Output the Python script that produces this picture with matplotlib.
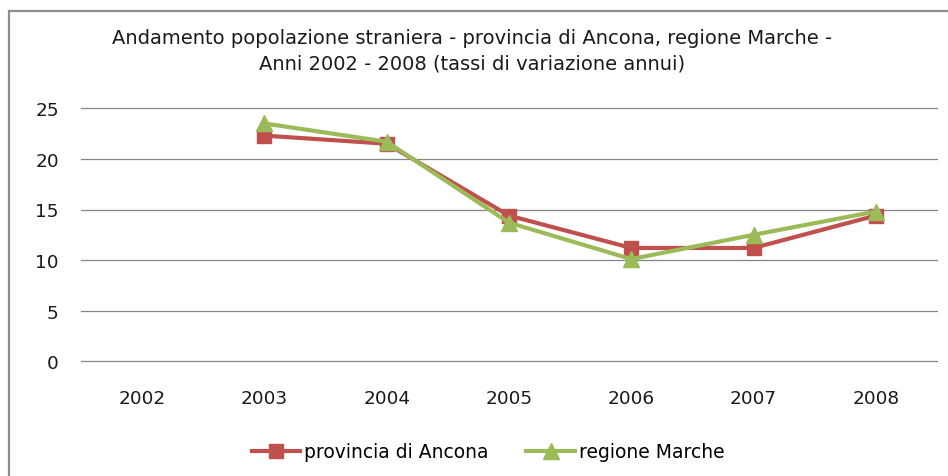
import matplotlib
matplotlib.use("Agg")
import matplotlib.pyplot as plt
from matplotlib.patches import Rectangle
import numpy as np

# dati
anni = ["2002", "2003", "2004", "2005", "2006", "2007", "2008"]
ancona = [np.nan, 22.3, 21.5, 14.4, 11.2, 11.2, 14.4]
marche = [np.nan, 23.5, 21.7, 13.7, 10.1, 12.5, 14.8]
yticks = [0, 5, 10, 15, 20, 25]

titolo = ("Andamento popolazione straniera - provincia di Ancona, regione Marche -\n"
          "Anni 2002 - 2008 (tassi di variazione annui)")

W, H = 948, 477
fig = plt.figure(figsize=(W / 100, H / 100), dpi=100)

# cornice esterna (tagliata a destra e in basso)
fig.patches.append(Rectangle((9 / W, -0.1), 1.2, 1 - 12 / H + 0.1,
                             transform=fig.transFigure, fill=False,
                             edgecolor="#8c8c8c", linewidth=1.6))

ax = fig.add_axes([81 / W, 1 - 362.3 / H, (937 - 81) / W, (362.3 - 109.3) / H])
x = np.arange(len(anni))

ax.plot(x, ancona, color="#C0504D", linewidth=3, marker="s", markersize=10,
        label="provincia di Ancona")
ax.plot(x, marche, color="#9BBB59", linewidth=3, marker="^", markersize=11,
        label="regione Marche")

ax.set_xlim(-0.5, len(anni) - 0.5)
ax.set_ylim(0, 25)
ax.set_xticks(x)
ax.set_xticklabels(anni)
ax.set_yticks(yticks)
ax.yaxis.grid(True, color="#868686", linewidth=0.9)
for gl in ax.get_ygridlines():
    gl.set_clip_on(False)
ax.set_axisbelow(True)
for s in ax.spines.values():
    s.set_visible(False)
ax.tick_params(axis="both", length=0, labelsize=13.3, colors="#1a1a1a")
ax.tick_params(axis="y", pad=16)
ax.tick_params(axis="x", pad=20)

fig.text(472 / W, 1 - 51 / H, titolo, ha="center", va="center",
         fontsize=14, linespacing=1.45, color="#1a1a1a")

fig.legend(loc="center", bbox_to_anchor=(488 / W, 1 - 453 / H), ncol=2,
           frameon=False, fontsize=13.5, handlelength=2.6, handletextpad=0.2,
           columnspacing=2.0)

fig.savefig("out.png", dpi=100)
